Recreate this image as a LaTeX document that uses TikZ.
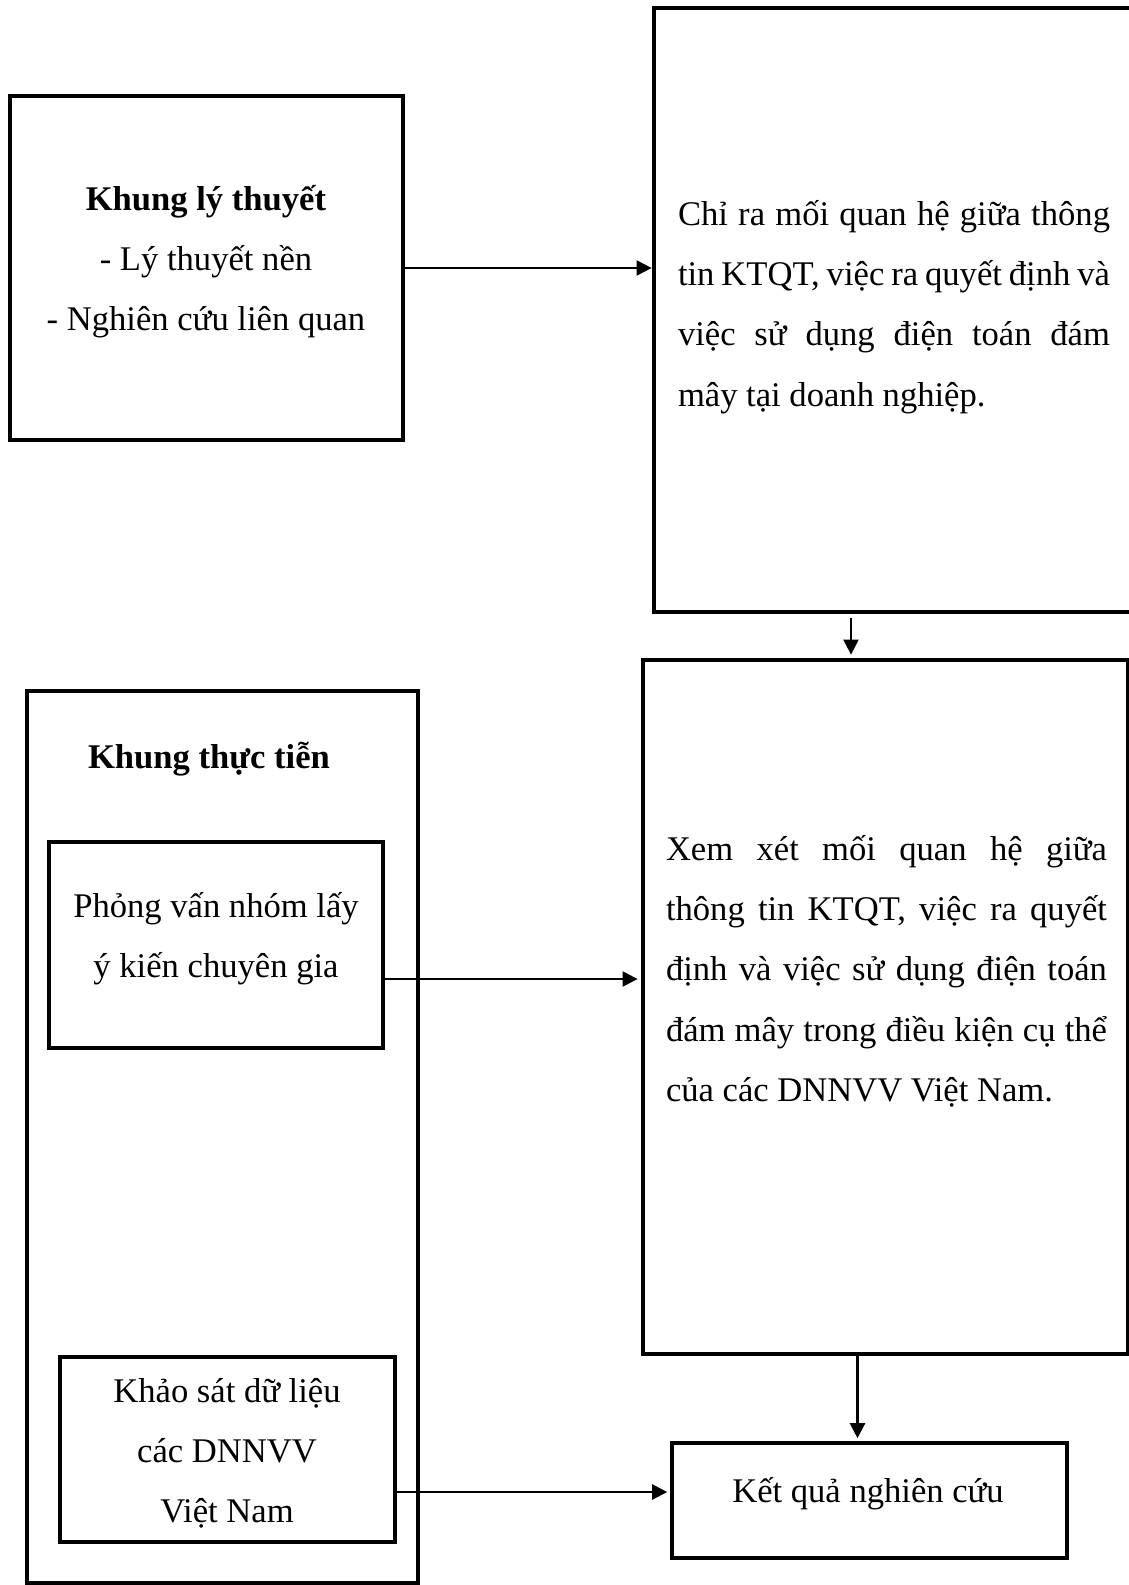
\documentclass[tikz,border=0pt]{standalone}
\usepackage{fontspec}
\setmainfont{Liberation Serif}
\usetikzlibrary{arrows.meta,positioning}
\hyphenpenalty=10000
\tikzset{
  boxthick/.style={draw=black, line width=2.4pt, inner sep=0pt},
  boxthin/.style={draw=black, line width=1.6pt, inner sep=0pt},
  boxtxt/.style={inner sep=0pt, anchor=base, font=\fontsize{17.3}{30.2}\selectfont},
  linkarr/.style={-{Triangle[length=7.5pt,width=7.5pt]}, line width=1.1pt},
}
\begin{document}
\begin{tikzpicture}[x=0.5pt,y=-0.5pt]
  \useasboundingbox (0,0) rectangle (1129,1585);
  % boxes
  \node[boxthick, minimum width=196.5pt, minimum height=172pt] (theory) at (206.5,268) {};
  \node[boxthick, minimum width=248pt, minimum height=302pt] (goal) at (902,310) {};
  \node[boxthick, minimum width=242.5pt, minimum height=347pt] (review) at (885.5,1007) {};
  \node[boxthin, minimum width=195.5pt, minimum height=446pt] (practice) at (222.5,1137) {};
  \node[boxthick, minimum width=167pt, minimum height=103pt] (interview) at (216,945) {};
  \node[boxthick, minimum width=167.5pt, minimum height=92.5pt] (survey) at (227.5,1449.5) {};
  \node[boxthick, minimum width=197.5pt, minimum height=57.5pt] (result) at (869.5,1500.5) {};
  % texts
  \node[boxtxt, text width=170pt, align=flush center] (theorytxt) at (206,210)
    {\textbf{Khung lý thuyết}\\- Lý thuyết nền\\- Nghiên cứu liên quan};
  \node[boxtxt, text width=216pt, align=justify] (goaltxt) at (894,225)
    {Chỉ ra mối quan hệ giữa thông\linebreak tin KTQT, việc ra quyết định và\linebreak
     việc sử dụng điện toán đám\linebreak mây tại doanh nghiệp.};
  \node[boxtxt, text width=220.5pt, align=justify] (reviewtxt) at (886.5,860)
    {Xem xét mối quan hệ giữa\linebreak thông tin KTQT, việc ra quyết\linebreak
     định và việc sử dụng điện toán\linebreak đám mây trong điều kiện cụ thể\linebreak
     của các DNNVV Việt Nam.};
  \node[boxtxt] (practicetxt) at (209,768) {\textbf{Khung thực tiễn}};
  \node[boxtxt, text width=165pt, align=flush center] (interviewtxt) at (216,917)
    {Phỏng vấn nhóm lấy\\ý kiến chuyên gia};
  \node[boxtxt, text width=165pt, align=flush center] (surveytxt) at (227,1402)
    {Khảo sát dữ liệu\\các DNNVV\\Việt Nam};
  \node[boxtxt] (resulttxt) at (868,1502) {Kết quả nghiên cứu};
  % arrows
  \coordinate (bc) at (851,0);
  \coordinate (ec) at (0,979);
  \coordinate (cg) at (857.5,0);
  \coordinate (fg) at (0,1492);
  \draw[linkarr] (theory.east) -- (theory.east -| goal.west);
  \draw[linkarr, shorten <=2pt, shorten >=1.5pt] (bc |- goal.south) -- (bc |- review.north);
  \draw[linkarr, shorten >=1.5pt] (ec -| interview.east) -- (ec -| review.west);
  \draw[linkarr, shorten >=1.2pt] (cg |- review.south) -- (cg |- result.north);
  \draw[linkarr, shorten >=1.2pt] (fg -| survey.east) -- (fg -| result.west);
\end{tikzpicture}
\end{document}
